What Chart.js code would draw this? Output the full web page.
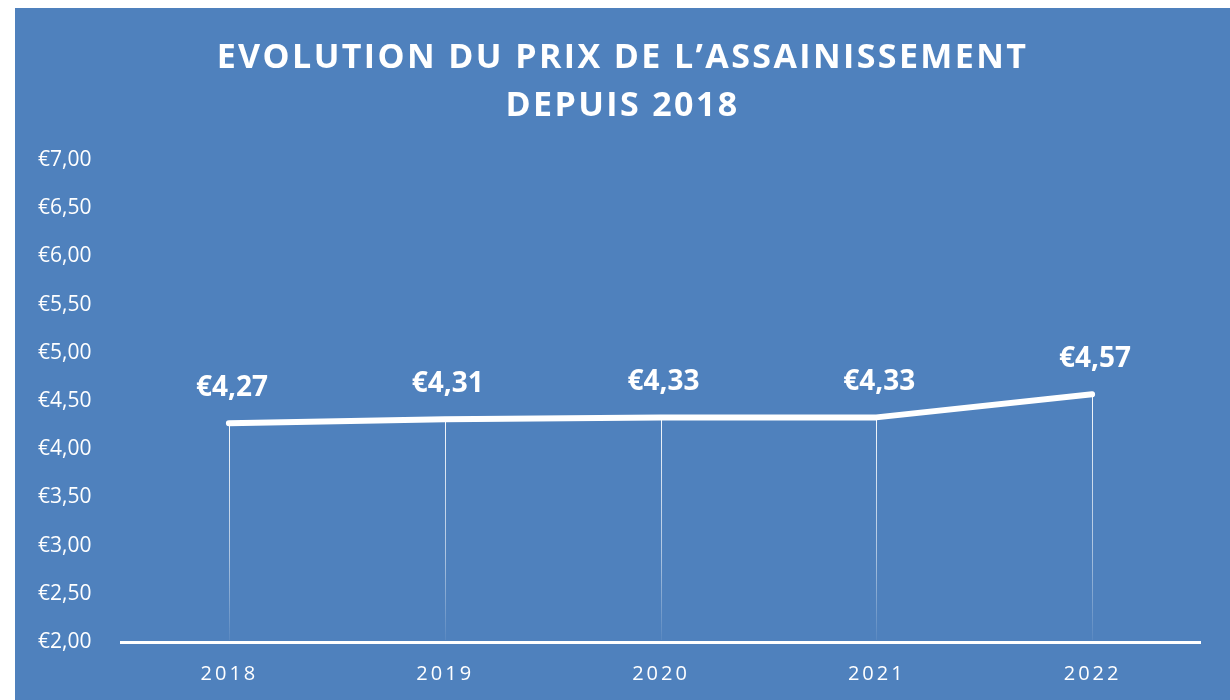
<!DOCTYPE html>
<html>
<head>
<meta charset="utf-8">
<script src="https://cdn.jsdelivr.net/npm/chart.js@4.4.1/dist/chart.umd.min.js"></script>
<style>
	html, body {
		margin: 0;
		padding: 0;
		background: #ffffff;
	}
	#wrap {
		position: absolute;
		left: 15px;
		top: 8px;
		width: 1215px;
		height: 692px;
		background: #4f81bd;
	}
</style>
</head>
<body>
<div id="wrap"><canvas id="price-chart" width="1215" height="692"></canvas></div>
<script>
const years = ["2018", "2019", "2020", "2021", "2022"];
const prices = [4.27, 4.31, 4.33, 4.33, 4.57];
const titleLines = ["EVOLUTION DU PRIX DE L\u2019ASSAINISSEMENT", "DEPUIS 2018"];
const yMin = 2;
const yMax = 7;
const yStep = 0.5;

function euro(v) {
	return "\u20AC" + v.toFixed(2).replace(".", ",");
}

// title, x labels, drop lines and value labels, drawn on top of the chart
const extras = {
	id: "extras",
	beforeDatasetsDraw(chart) {
		let ctx = chart.ctx;
		let meta = chart.getDatasetMeta(0);
		let bottom = chart.chartArea.bottom;
		ctx.save();
		meta.data.forEach(function(pt) {
			let grad = ctx.createLinearGradient(0, pt.y, 0, bottom);
			grad.addColorStop(0, "rgba(255,255,255,0.95)");
			grad.addColorStop(0.6, "rgba(255,255,255,0.55)");
			grad.addColorStop(1, "rgba(255,255,255,0.05)");
			ctx.strokeStyle = grad;
			ctx.lineWidth = 1;
			ctx.beginPath();
			ctx.moveTo(Math.round(pt.x) + 0.5, pt.y);
			ctx.lineTo(Math.round(pt.x) + 0.5, bottom - 2);
			ctx.stroke();
		});
		ctx.restore();
	},
	afterDraw(chart) {
		let ctx = chart.ctx;
		let meta = chart.getDatasetMeta(0);
		let cx = (chart.width) / 2;
		ctx.save();
		ctx.fillStyle = "#ffffff";
		ctx.textAlign = "center";
		ctx.textBaseline = "middle";

		ctx.font = "bold 34px 'Open Sans'";
		ctx.letterSpacing = "2.4px";
		ctx.fillText(titleLines[0], cx, 50);
		ctx.fillText(titleLines[1], cx, 98);

		ctx.font = "20px 'Open Sans'";
		ctx.letterSpacing = "3px";
		let xs = chart.scales.x;
		years.forEach(function(y, i) {
			ctx.fillText(y, xs.getPixelForTick(i) + 0.5, 666);
		});

		ctx.font = "bold 28px 'Open Sans'";
		ctx.letterSpacing = "0px";
		ctx.textBaseline = "alphabetic";
		meta.data.forEach(function(pt, i) {
			ctx.fillText(euro(prices[i]), pt.x + 3, pt.y - 27);
		});
		ctx.restore();
	}
};

function createChart() {
	const canvas = document.querySelector("#price-chart");
	const options = {
		type: "line",
		data: {
			labels: years,
			datasets: [{
				data: prices,
				borderColor: "#ffffff",
				borderWidth: 6,
				borderCapStyle: "round",
				borderJoinStyle: "round",
				pointRadius: 0,
				pointHoverRadius: 0,
				tension: 0,
				fill: false,
			}]
		},
		options: {
			responsive: false,
			animation: false,
			layout: {
				padding: {
					left: 23,
					right: 30,
					top: 152,
					bottom: 0
				}
			},
			scales: {
				x: {
					offset: true,
					grid: {
						display: false,
						drawTicks: false,
					},
					border: {
						display: true,
						color: "#ffffff",
						width: 3,
					},
					ticks: {
						color: "rgba(0,0,0,0)",
						font: { family: "'Open Sans'", size: 20 },
					},
					afterFit: function(scale) {
						scale.height = 58;
					},
				},
				y: {
					min: yMin,
					max: yMax,
					grid: {
						display: false,
						drawTicks: false,
					},
					border: {
						display: false,
					},
					ticks: {
						stepSize: yStep,
						color: "#ffffff",
						crossAlign: "far",
						font: { family: "'Open Sans'", size: 21 },
						callback: function(v) {
							return euro(v);
						},
					},
					afterFit: function(scale) {
						scale.width = 83;
					},
				},
			},
			plugins: {
				legend: { display: false },
				title: { display: false },
				tooltip: { enabled: false },
			},
		},
		plugins: [extras],
	};
	const chart = new Chart(canvas.getContext("2d"), options);
}

createChart();
</script>
</body>
</html>
